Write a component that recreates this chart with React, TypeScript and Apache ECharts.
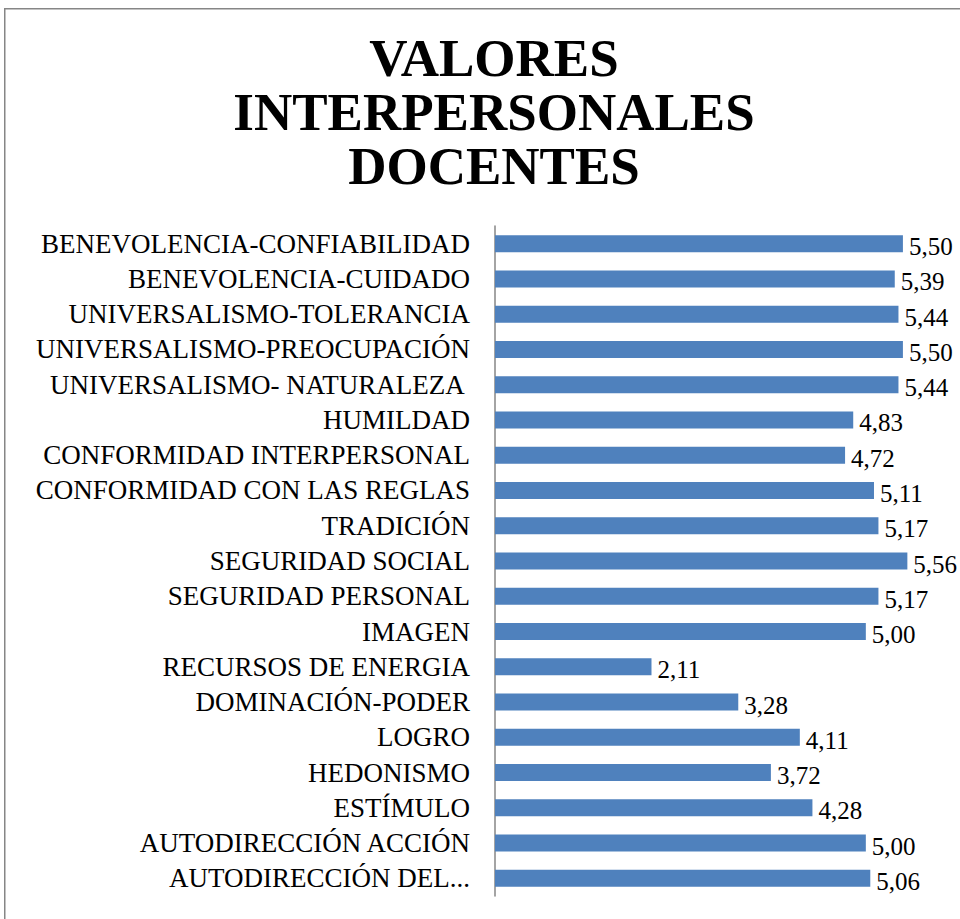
import React, { useEffect, useRef } from "react";
import * as echarts from "echarts";

const titleLines = ["VALORES", "INTERPERSONALES", "DOCENTES"];

const categories = [
  "BENEVOLENCIA-CONFIABILIDAD",
  "BENEVOLENCIA-CUIDADO",
  "UNIVERSALISMO-TOLERANCIA",
  "UNIVERSALISMO-PREOCUPACIÓN",
  "UNIVERSALISMO- NATURALEZA ",
  "HUMILDAD",
  "CONFORMIDAD INTERPERSONAL",
  "CONFORMIDAD CON LAS REGLAS",
  "TRADICIÓN",
  "SEGURIDAD SOCIAL",
  "SEGURIDAD PERSONAL",
  "IMAGEN",
  "RECURSOS DE ENERGIA",
  "DOMINACIÓN-PODER",
  "LOGRO",
  "HEDONISMO",
  "ESTÍMULO",
  "AUTODIRECCIÓN ACCIÓN",
  "AUTODIRECCIÓN DEL...",
];

const values = [
  5.5, 5.39, 5.44, 5.5, 5.44, 4.83, 4.72, 5.11, 5.17, 5.56, 5.17, 5.0, 2.11,
  3.28, 4.11, 3.72, 4.28, 5.0, 5.06,
];

export default function App() {
  const ref = useRef<HTMLDivElement>(null);
  useEffect(() => {
    if (!ref.current) return;
    const chart = echarts.init(ref.current, undefined, { renderer: "svg" });
    chart.setOption({
      animation: false,
      backgroundColor: "#ffffff",
      title: {
        text: titleLines.join("\n"),
        left: 489,
        top: 26,
        textAlign: "center",
        textStyle: {
          fontFamily: "Liberation Serif",
          fontSize: 53,
          fontWeight: "bold",
          lineHeight: 54,
          color: "#000000",
        },
      },
      graphic: [
        {
          type: "rect",
          shape: { x: 4.75, y: 8.75, width: 1000, height: 1000 },
          style: { fill: "none", stroke: "#868686", lineWidth: 1.5 },
          silent: true,
        },
      ],
      grid: { left: 495, top: 226, height: 670, right: 20 },
      xAxis: {
        type: "value",
        min: 0,
        max: 6,
        show: false,
      },
      yAxis: {
        type: "category",
        data: categories,
        inverse: true,
        axisLine: { show: true, lineStyle: { color: "#868686", width: 1.5 } },
        axisTick: { show: false },
        axisLabel: {
          margin: 25,
          fontFamily: "Liberation Serif",
          fontSize: 27,
          color: "#000000",
        },
      },
      series: [
        {
          type: "bar",
          data: values,
          barWidth: 17,
          itemStyle: { color: "#4F81BD" },
          label: {
            show: true,
            position: "right",
            distance: 6,
            offset: [0, 3],
            fontFamily: "Liberation Serif",
            fontSize: 25,
            color: "#000000",
            formatter: (p: any) => p.value.toFixed(2).replace(".", ","),
          },
        },
      ],
    });
    return () => chart.dispose();
  }, []);
  return (
    <div
      ref={ref}
      style={{ position: "fixed", left: 0, top: 0, width: 960, height: 919 }}
    />
  );
}
